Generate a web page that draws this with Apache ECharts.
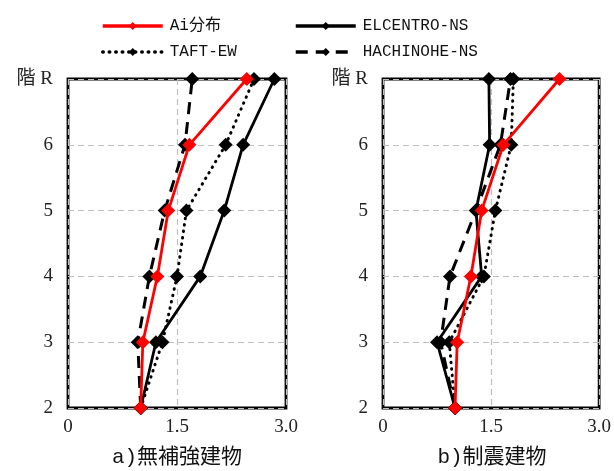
<!DOCTYPE html>
<html>
<head>
<meta charset="utf-8">
<script src="https://cdn.jsdelivr.net/npm/echarts@6/dist/echarts.min.js"></script>
<style>
  html, body { margin: 0; padding: 0; background: #fff; }
  #chart { width: 614px; height: 471px; }
</style>
</head>
<body>
<div id="chart"></div>
<script>
const floors = ['2', '3', '4', '5', '6', 'R']
const xTicks = [0, 1.5, 3.0]

// a) 無補強建物
const aiA = [1.0, 1.03, 1.23, 1.38, 1.67, 2.46]
const elcentroA = [1.0, 1.21, 1.82, 2.15, 2.41, 2.84]
const taftA = [1.0, 1.30, 1.50, 1.63, 2.17, 2.56]
const hachinoheA = [1.0, 0.96, 1.12, 1.33, 1.61, 1.71]

// b) 制震建物
const aiB = [1.0, 1.03, 1.22, 1.37, 1.67, 2.45]
const elcentroB = [1.0, 0.75, 1.37, 1.29, 1.48, 1.47]
const taftB = [1.0, 0.92, 1.40, 1.56, 1.78, 1.81]
const hachinoheB = [1.0, 0.80, 0.93, 1.29, 1.63, 1.77]

const titles = ['a)無補強建物', 'b)制震建物']

const serifFont = "'Liberation Serif', 'Noto Sans CJK JP', serif"
const gothicFont = "'Liberation Mono', 'Noto Sans CJK JP', monospace"

const chart = echarts.init(document.getElementById('chart'))

function xAxisFor(idx) {
	return {
		type: 'value',
		gridIndex: idx,
		min: xTicks[0],
		max: xTicks[2],
		interval: 1.5,
		axisLine: { show: false },
		axisTick: { show: false },
		axisLabel: {
			color: '#222',
			fontFamily: serifFont,
			fontSize: 19,
			margin: 10,
			formatter: v => (v === 0 ? '0' : v.toFixed(1))
		},
		splitLine: {
			show: true,
			lineStyle: { color: '#bfbfbf', type: [6, 4], width: 1.2 }
		}
	}
}

function yAxisFor(idx) {
	return {
		type: 'category',
		gridIndex: idx,
		data: floors,
		boundaryGap: false,
		axisLine: { show: false },
		axisTick: { show: false },
		axisLabel: {
			color: '#222',
			fontFamily: serifFont,
			fontSize: 19,
			margin: 15,
			formatter: v => (v === 'R' ? '階 R' : v)
		},
		splitLine: {
			show: true,
			lineStyle: { color: '#bfbfbf', type: [6, 4], width: 1.2 }
		}
	}
}

function seriesFor(idx, ai, el, taft, hach) {
	const base = {
		type: 'line',
		xAxisIndex: idx,
		yAxisIndex: idx,
		symbol: 'diamond',
		symbolSize: 14,
		animation: false
	}
	return [
		Object.assign({}, base, {
			name: 'Ai分布', data: ai, z: 5,
			itemStyle: { color: '#ff0000' },
			lineStyle: { color: '#ff0000', width: 2.8 }
		}),
		Object.assign({}, base, {
			name: 'ELCENTRO-NS', data: el, z: 3,
			itemStyle: { color: '#000' },
			lineStyle: { color: '#000', width: 2.8 }
		}),
		Object.assign({}, base, {
			name: 'TAFT-EW', data: taft, z: 3,
			itemStyle: { color: '#000' },
			lineStyle: { color: '#000', width: 3, type: [0.5, 6], cap: 'round' }
		}),
		Object.assign({}, base, {
			name: 'HACHINOHE-NS', data: hach, z: 3,
			itemStyle: { color: '#000' },
			lineStyle: { color: '#000', width: 3, type: [12, 8] }
		})
	]
}

const legendCommon = {
	orient: 'vertical',
	top: 13,
	itemWidth: 60,
	itemHeight: 10,
	itemGap: 10,
	lineStyle: { width: 3.5 },
	textStyle: { fontFamily: gothicFont, fontSize: 16, color: '#111', padding: [0, 0, 0, 2] }
}

const option = {
	backgroundColor: '#fff',
	animation: false,
	legend: [
		Object.assign({}, legendCommon, { left: 96, data: ['Ai分布', 'TAFT-EW'] }),
		Object.assign({}, legendCommon, { left: 289, data: ['ELCENTRO-NS', 'HACHINOHE-NS'] })
	],
	grid: [
		{ left: 68, width: 218, top: 79, height: 329, show: true, borderColor: '#000', borderWidth: 2.8, backgroundColor: 'transparent' },
		{ left: 383, width: 219, top: 79, height: 329, show: true, borderColor: '#000', borderWidth: 2.8, backgroundColor: 'transparent' }
	],
	xAxis: [xAxisFor(0), xAxisFor(1)],
	yAxis: [yAxisFor(0), yAxisFor(1)],
	graphic: [
		{ type: 'text', x: 177, y: 457, style: { text: titles[0], fontFamily: gothicFont, fontSize: 21, fill: '#111', textAlign: 'center', textVerticalAlign: 'middle' } },
		{ type: 'text', x: 492, y: 457, style: { text: titles[1], fontFamily: gothicFont, fontSize: 21, fill: '#111', textAlign: 'center', textVerticalAlign: 'middle' } }
	],
	series: [].concat(
		seriesFor(0, aiA, elcentroA, taftA, hachinoheA),
		seriesFor(1, aiB, elcentroB, taftB, hachinoheB)
	)
}

chart.setOption(option)
</script>
</body>
</html>
